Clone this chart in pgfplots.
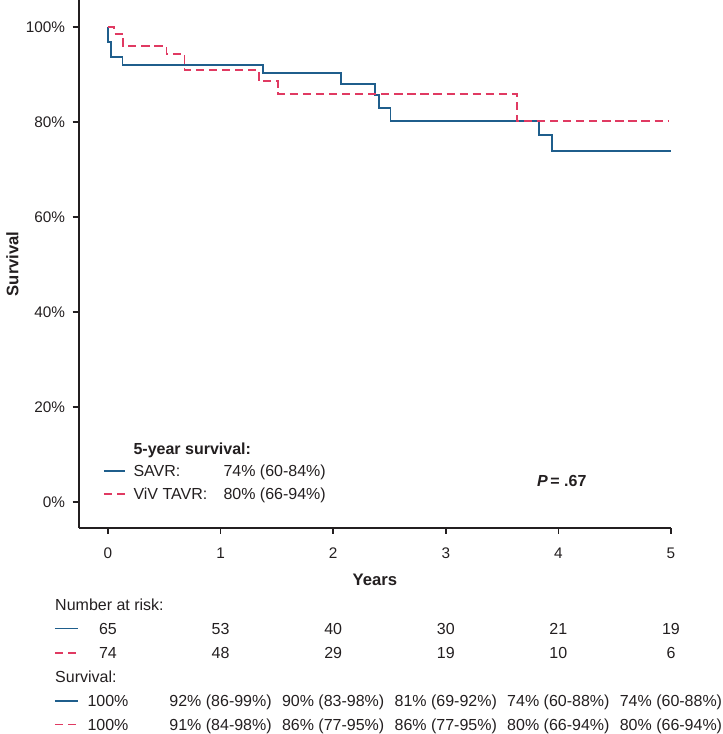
\documentclass[border=0pt]{standalone}
\usepackage{fontspec}
\setmainfont{Liberation Sans}
\usepackage{pgfplots}
\pgfplotsset{compat=1.18}
\definecolor{savr}{HTML}{1F5E8C}
\definecolor{viv}{HTML}{E03A62}
\definecolor{axc}{HTML}{231F20}
\tikzset{tbl/.style={font=\fontsize{12}{14}\selectfont, inner sep=0pt, text height=8.6pt, text depth=0pt, color=axc}}
\begin{document}
\begin{tikzpicture}
\useasboundingbox (-59.03pt,-154.73pt) rectangle (483.22pt,395.78pt);
\begin{axis}[
 at={(0pt,0pt)}, anchor=south west,
 scale only axis, width=444.2pt, height=395.78pt,
 xmin=-0.26, xmax=5, ymin=-5.35, ymax=105.75,
 axis lines*=left,
 axis line style={line width=1.3pt, color=axc},
 every tick/.style={line width=1.3pt, color=axc},
 major tick length=4.5pt, tick align=outside,
 xtick={0,1,2,3,4,5}, xticklabels={0,1,2,3,4,5},
 ytick={0,20,40,60,80,100}, yticklabels={0\%,20\%,40\%,60\%,80\%,100\%},
 tick label style={font=\fontsize{11.5}{13}\selectfont, color=axc},
 xticklabel style={yshift=-7pt},
 yticklabel style={xshift=-2.2pt},
 clip=false,
 xlabel={Years}, ylabel={Survival},
 label style={font=\fontsize{12.5}{14}\selectfont\bfseries, color=axc},
 xlabel style={at={(axis description cs:0.5,-0.0991)}, anchor=center},
 ylabel style={at={(axis description cs:-0.112,0.5)}, anchor=center},
]
% SAVR
\addplot[const plot, savr, line width=1.3pt] coordinates {
 (0,100) (0,96.84) (0.024,93.75) (0.13,92.13) (1.374,90.32) (2.07,88.0)
 (2.37,85.68) (2.41,83.07) (2.51,80.27) (3.83,77.26) (3.946,73.96) (5,73.96)};
% ViV TAVR
\addplot[const plot, viv, line width=1.3pt, dash pattern=on 6.2pt off 3.6pt] coordinates {
 (0,100) (0.056,98.65) (0.136,96.0) (0.52,94.38) (0.68,91.0) (1.34,88.63)
 (1.51,86.0) (3.63,80.27) (4.985,80.27)};
% in-plot legend
\addplot[savr, line width=1.3pt, forget plot] coordinates {(-0.0355,6.59) (0.151,6.59)};
\addplot[viv, line width=1.3pt, dash pattern=on 6.2pt off 3.6pt, forget plot] coordinates {(-0.0355,1.75) (0.151,1.75)};
\node[tbl, anchor=west, font=\fontsize{12}{14}\selectfont\bfseries] at (axis cs:0.2247,11.22) {5-year survival:};
\node[tbl, anchor=west] at (axis cs:0.2247,6.59) {SAVR:};
\node[tbl, anchor=west] at (axis cs:1.024,6.59) {74\% (60-84\%)};
\node[tbl, anchor=west] at (axis cs:0.2247,1.75) {ViV TAVR:};
\node[tbl, anchor=west] at (axis cs:1.024,1.75) {80\% (66-94\%)};
\node[tbl, anchor=center, font=\fontsize{12}{14}\selectfont\bfseries] at (axis cs:4.03,4.55) {\textit{P}\,= .67};
% risk table
\node[tbl, anchor=west] at (axis cs:-0.4707,-21.62) {Number at risk:};
\addplot[savr, line width=1.3pt, forget plot] coordinates {(-0.4707,-26.57) (-0.2638,-26.57)};
\addplot[viv, line width=1.3pt, dash pattern=on 6.2pt off 3.6pt, forget plot] coordinates {(-0.4707,-31.73) (-0.2638,-31.73)};
\node[tbl] at (axis cs:0,-26.57) {65};
\node[tbl] at (axis cs:1,-26.57) {53};
\node[tbl] at (axis cs:2,-26.57) {40};
\node[tbl] at (axis cs:3,-26.57) {30};
\node[tbl] at (axis cs:4,-26.57) {21};
\node[tbl] at (axis cs:5,-26.57) {19};
\node[tbl] at (axis cs:0,-31.73) {74};
\node[tbl] at (axis cs:1,-31.73) {48};
\node[tbl] at (axis cs:2,-31.73) {29};
\node[tbl] at (axis cs:3,-31.73) {19};
\node[tbl] at (axis cs:4,-31.73) {10};
\node[tbl] at (axis cs:5,-31.73) {6};
\node[tbl, anchor=west] at (axis cs:-0.4707,-36.67) {Survival:};
\addplot[savr, line width=1.3pt, forget plot] coordinates {(-0.4707,-41.83) (-0.2638,-41.83)};
\addplot[viv, line width=1.3pt, dash pattern=on 6.2pt off 3.6pt, forget plot] coordinates {(-0.4707,-46.78) (-0.2638,-46.78)};
\node[tbl] at (axis cs:0,-41.83) {100\%};
\node[tbl] at (axis cs:1,-41.83) {92\% (86-99\%)};
\node[tbl] at (axis cs:2,-41.83) {90\% (83-98\%)};
\node[tbl] at (axis cs:3,-41.83) {81\% (69-92\%)};
\node[tbl] at (axis cs:4,-41.83) {74\% (60-88\%)};
\node[tbl] at (axis cs:5,-41.83) {74\% (60-88\%)};
\node[tbl] at (axis cs:0,-46.78) {100\%};
\node[tbl] at (axis cs:1,-46.78) {91\% (84-98\%)};
\node[tbl] at (axis cs:2,-46.78) {86\% (77-95\%)};
\node[tbl] at (axis cs:3,-46.78) {86\% (77-95\%)};
\node[tbl] at (axis cs:4,-46.78) {80\% (66-94\%)};
\node[tbl] at (axis cs:5,-46.78) {80\% (66-94\%)};
\end{axis}
\end{tikzpicture}
\end{document}
